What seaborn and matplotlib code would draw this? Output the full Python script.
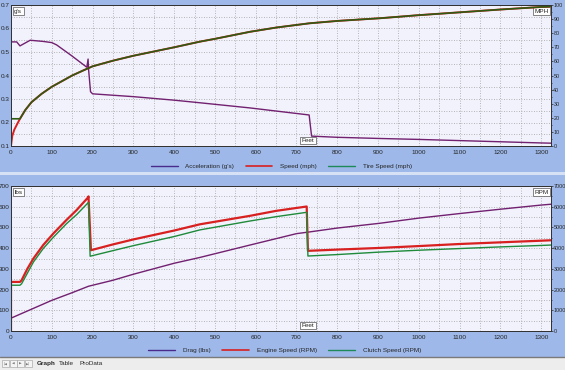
import matplotlib.pyplot as plt
import seaborn as sns
from matplotlib.lines import Line2D
from matplotlib.patches import Rectangle
from matplotlib.ticker import MultipleLocator

# ---- top graph: acceleration (g's) and speeds (mph) against distance (feet)
accel_ft = [0, 0, 3, 14, 22, 47, 79, 100, 112, 148, 186, 189, 190, 195, 200, 300, 400, 463,
            586, 731, 737, 800, 904, 1000, 1100, 1200, 1300, 1324]
accel_g = [0.65, 0.545, 0.543, 0.543, 0.526, 0.55, 0.545, 0.54, 0.53, 0.485, 0.435, 0.47, 0.43,
           0.331, 0.322, 0.31, 0.295, 0.284, 0.262, 0.232, 0.142, 0.137, 0.132, 0.128, 0.123,
           0.118, 0.113, 0.112]

speed_ft = [0, 3, 8, 15, 22, 35, 50, 75, 100, 125, 150, 175, 192, 200, 250, 300, 350, 400, 463,
            500, 586, 650, 731, 800, 904, 1000, 1100, 1200, 1300, 1324]
speed_mph = [0, 7, 11.5, 15.5, 19.3, 25.5, 31, 37, 42, 46, 50, 53.3, 55.5, 56.5, 60.5, 64, 67, 70,
             74, 76, 81, 84, 87, 88.7, 90.6, 92.8, 94.8, 96.8, 98.6, 99]

tire_ft = [0, 0, 22, 35, 50, 75, 100, 125, 150, 175, 192, 200, 250, 300, 350, 400, 463,
           500, 586, 650, 731, 800, 904, 1000, 1100, 1200, 1300, 1324]
tire_mph = [0, 19.3, 19.3, 25.5, 31, 37, 42, 46, 50, 53.3, 55.5, 56.5, 60.5, 64, 67, 70,
            74, 76, 81, 84, 87, 88.7, 90.6, 92.8, 94.8, 96.8, 98.6, 99]

# ---- bottom graph: drag (lbs), engine and clutch speed (RPM)
drag_ft = [0, 0, 50, 100, 150, 190, 250, 300, 400, 463, 586, 700, 731, 800, 904, 1000, 1100,
           1200, 1300, 1324]
drag_lbs = [0, 62, 105, 148, 185, 216, 245, 274, 327, 355, 415, 470, 478, 497, 520, 545, 567,
            588, 608, 612]

engine_ft = [0, 0, 22, 26, 40, 55, 79, 104, 136, 161, 189, 190, 196, 250, 300, 400, 463, 586,
             650, 725, 728, 800, 904, 1000, 1100, 1200, 1300, 1324]
engine_rpm = [0, 2370, 2370, 2450, 3000, 3500, 4150, 4710, 5360, 5840, 6450, 6500, 3900, 4180,
              4420, 4850, 5150, 5560, 5800, 6010, 3870, 3930, 4010, 4100, 4200, 4280, 4360, 4380]

clutch_ft = [0, 0, 22, 26, 55, 79, 104, 136, 161, 189, 190, 194, 250, 300, 400, 463, 586, 650,
             725, 728, 800, 904, 1000, 1100, 1200, 1300, 1324]
clutch_rpm = [0, 2210, 2210, 2280, 3330, 3980, 4530, 5180, 5620, 6190, 6200, 3610, 3880, 4120,
              4560, 4880, 5310, 5520, 5730, 3620, 3690, 3810, 3900, 3980, 4060, 4130, 4150]

BG = '#9DB8E9'
FACE = '#F1F2FB'
PURPLE = '#722070'
RED = '#D82020'
GREEN = '#1E8A3A'
FS = 4.6

sns.set_style('white')
plt.rcParams['font.family'] = ['Liberation Sans', 'DejaVu Sans']
plt.rcParams['font.size'] = FS

fig = plt.figure(figsize=(5.65, 3.70), dpi=100, facecolor=BG)


def style_axes(ax, ax2, ylim_l, ylim_r, major_l, minor_l, major_r, minor_r):
    ax.set_facecolor(FACE)
    ax.set_xlim(0, 1324)
    ax.set_ylim(*ylim_l)
    ax2.set_ylim(*ylim_r)
    ax.xaxis.set_major_locator(MultipleLocator(100))
    ax.xaxis.set_minor_locator(MultipleLocator(50))
    ax.yaxis.set_major_locator(MultipleLocator(major_l))
    ax.yaxis.set_minor_locator(MultipleLocator(minor_l))
    ax2.yaxis.set_major_locator(MultipleLocator(major_r))
    ax2.yaxis.set_minor_locator(MultipleLocator(minor_r))
    ax.grid(True, which='both', ls=(0, (1, 2)), color='#a2a2a2', lw=0.6)
    ax.tick_params(axis='x', which='both', direction='in', length=2.5, width=0.5,
                   labelsize=FS, pad=3, color='#333333')
    ax.tick_params(axis='y', which='both', length=0, labelsize=FS, pad=1)
    ax2.tick_params(axis='y', which='major', direction='out', length=1.3, width=0.5,
                    labelsize=3.9, pad=0.4)
    ax2.tick_params(axis='y', which='minor', direction='out', length=0.8, width=0.5)
    for a in (ax, ax2):
        for s in a.spines.values():
            s.set_color('#333333')
            s.set_linewidth(0.7)
    ax.set_xlabel('')
    ax.set_ylabel('')
    ax2.set_xlabel('')
    ax2.set_ylabel('')


def unit_box(ax, x, y, text, ha, va, transform):
    ax.text(x, y, text, transform=transform, ha=ha, va=va, fontsize=FS, zorder=10,
            bbox=dict(boxstyle='square,pad=0.2', fc='white', ec='#555555', lw=0.5))


# ---------------- top panel
ax = fig.add_axes([11 / 565, 1 - 146 / 370, 540 / 565, 141 / 370])
ax2 = ax.twinx()
sns.lineplot(x=accel_ft, y=accel_g, ax=ax, color=PURPLE, lw=1.0, estimator=None, sort=False)
sns.lineplot(x=speed_ft, y=speed_mph, ax=ax2, color=RED, lw=1.4, estimator=None, sort=False)
sns.lineplot(x=tire_ft, y=tire_mph, ax=ax2, color='#2F5A14', lw=1.2, estimator=None, sort=False)
style_axes(ax, ax2, (0.1, 0.7), (0, 100), 0.1, 0.05, 10, 5)
unit_box(ax, 0.006, 0.975, "g's", 'left', 'top', ax.transAxes)
unit_box(ax, 0.995, 0.975, 'MPH', 'right', 'top', ax.transAxes)
unit_box(ax, 728, 0.02, 'Feet', 'center', 'bottom', ax.get_xaxis_transform())

fig.legend(handles=[Line2D([], [], color='#4A2A8A', lw=1.0),
                    Line2D([], [], color=RED, lw=1.2),
                    Line2D([], [], color='#1E8A5A', lw=1.0)],
           labels=["Acceleration (g's)", 'Speed (mph)', 'Tire Speed (mph)'],
           loc='center', bbox_to_anchor=(0.498, 1 - 166 / 370), ncol=3, frameon=False,
           fontsize=FS, handlelength=4.2, handletextpad=1.2, columnspacing=1.8)

# ---------------- bottom panel
bx = fig.add_axes([11 / 565, 1 - 331 / 370, 540 / 565, 145 / 370])
bx2 = bx.twinx()
sns.lineplot(x=drag_ft, y=drag_lbs, ax=bx, color=PURPLE, lw=1.0, estimator=None, sort=False)
sns.lineplot(x=engine_ft, y=engine_rpm, ax=bx2, color=RED, lw=1.6, estimator=None, sort=False)
sns.lineplot(x=clutch_ft, y=clutch_rpm, ax=bx2, color=GREEN, lw=1.0, estimator=None, sort=False)
style_axes(bx, bx2, (0, 700), (0, 7000), 100, 50, 1000, 500)
unit_box(bx, 0.006, 0.975, 'lbs', 'left', 'top', bx.transAxes)
unit_box(bx, 0.995, 0.975, 'RPM', 'right', 'top', bx.transAxes)
unit_box(bx, 728, 0.02, 'Feet', 'center', 'bottom', bx.get_xaxis_transform())

fig.legend(handles=[Line2D([], [], color='#4A2A8A', lw=1.0),
                    Line2D([], [], color=RED, lw=1.2),
                    Line2D([], [], color='#1E8A5A', lw=1.0)],
           labels=['Drag (lbs)', 'Engine Speed (RPM)', 'Clutch Speed (RPM)'],
           loc='center', bbox_to_anchor=(0.504, 1 - 350 / 370), ncol=3, frameon=False,
           fontsize=FS, handlelength=4.2, handletextpad=1.2, columnspacing=1.8)

# ---------------- window chrome: panel separator and tab bar
fig.add_artist(Rectangle((0, 1 - 175 / 370), 1, 3.5 / 370, transform=fig.transFigure,
                         fc='#D6E1F5', ec='none'))
fig.add_artist(Rectangle((0, 0), 1, 13 / 370, transform=fig.transFigure,
                         fc='#EDEDED', ec='none'))
fig.add_artist(Line2D([0, 1], [13 / 370, 13 / 370], transform=fig.transFigure,
                      color='#7A7A7A', lw=1.0))
for i, glyph in enumerate(['|◀', '◀', '▶', '▶|']):
    x0 = (2 + i * 7.5) / 565
    fig.add_artist(Rectangle((x0, 3 / 370), 7 / 565, 7 / 370, transform=fig.transFigure,
                             fc='#F4F4F4', ec='#9A9A9A', lw=0.4))
    fig.text(x0 + 3.5 / 565, 6.5 / 370, glyph, fontsize=2.5, ha='center', va='center',
             color='#777777', family=['DejaVu Sans'])
fig.text(37 / 565, 6.5 / 370, 'Graph', fontsize=FS, fontweight='bold', ha='left', va='center')
fig.text(59 / 565, 6.5 / 370, 'Table', fontsize=FS, ha='left', va='center')
fig.text(80 / 565, 6.5 / 370, 'ProData', fontsize=FS, ha='left', va='center')

fig.savefig('out.png', dpi=100, facecolor=BG)
